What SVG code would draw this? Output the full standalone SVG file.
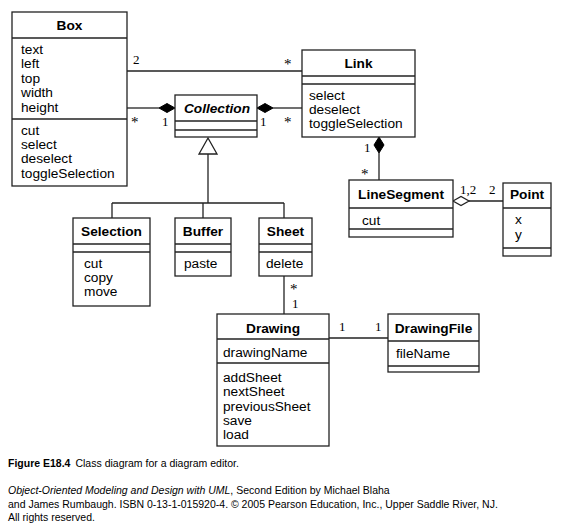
<svg xmlns="http://www.w3.org/2000/svg" width="564" height="527" viewBox="0 0 564 527">
<style>
.c{fill:#fff;stroke:#222;stroke-width:1.3}
.d{stroke:#222;stroke-width:1.3;fill:none}
.ln{stroke:#222;stroke-width:1.3;fill:none}
.nm{font-family:"Liberation Sans",Arial,sans-serif;font-weight:bold;font-size:13.7px;text-anchor:middle;fill:#000}
.tx{font-family:"Liberation Sans",Arial,sans-serif;font-size:13.7px;fill:#000}
.m{font-family:"Liberation Serif","Times New Roman",serif;font-size:13px;fill:#000}
.st{font-family:"Liberation Serif","Times New Roman",serif;font-size:15px;fill:#000}
.cap{font-family:"Liberation Sans",Arial,sans-serif;font-size:10.5px;fill:#000}
</style>
<rect width="564" height="527" fill="#fff"/>
<g id="connectors">
  <line class="ln" x1="127" y1="71" x2="302" y2="71"/>
  <line class="ln" x1="127" y1="108" x2="159" y2="108"/>
  <polygon points="159,108 167,103.5 175,108 167,112.5" fill="#000" stroke="#000"/>
  <line class="ln" x1="273" y1="108" x2="302" y2="108"/>
  <polygon points="257,108 265,103.5 273,108 265,112.5" fill="#000" stroke="#000"/>
  <polygon points="208,138 199,154 217,154" fill="#fff" stroke="#222" stroke-width="1.3"/>
  <polyline class="ln" points="208,154 208,203"/>
  <line class="ln" x1="112" y1="203" x2="284" y2="203"/>
  <line class="ln" x1="112" y1="203" x2="112" y2="218"/>
  <line class="ln" x1="203" y1="203" x2="203" y2="218"/>
  <line class="ln" x1="284" y1="203" x2="284" y2="218"/>
  <line class="ln" x1="284" y1="276" x2="284" y2="314"/>
  <line class="ln" x1="329" y1="338" x2="388" y2="338"/>
  <line class="ln" x1="379" y1="153" x2="379" y2="180"/>
  <polygon points="379,137 384,145 379,153 374,145" fill="#000" stroke="#000"/>
  <line class="ln" x1="469" y1="201" x2="503" y2="201"/>
  <polygon points="453,201 461,196.5 469,201 461,205.5" fill="#fff" stroke="#222" stroke-width="1.3"/>
  <text class="m" x="133" y="64">2</text>
  <text class="st" x="284" y="69">*</text>
  <text class="st" x="131" y="127">*</text>
  <text class="m" x="162" y="126">1</text>
  <text class="m" x="260" y="126">1</text>
  <text class="st" x="284" y="127">*</text>
  <text class="st" x="290" y="294">*</text>
  <text class="m" x="292" y="308">1</text>
  <text class="m" x="339" y="331">1</text>
  <text class="m" x="375" y="331">1</text>
  <text class="m" x="364" y="152">1</text>
  <text class="st" x="361" y="179">*</text>
  <text class="m" x="460" y="194">1,2</text>
  <text class="m" x="489" y="194">2</text>
</g>
<g id="Box">
  <rect class="c" x="12" y="12" width="115" height="174"/>
  <line class="d" x1="12" y1="38" x2="127" y2="38"/>
  <line class="d" x1="12" y1="119" x2="127" y2="119"/>
  <text class="nm" x="69.5" y="30">Box</text>
  <text class="tx" x="21" y="53.5">text</text>
  <text class="tx" x="21" y="68">left</text>
  <text class="tx" x="21" y="82.5">top</text>
  <text class="tx" x="21" y="97">width</text>
  <text class="tx" x="21" y="111.5">height</text>
  <text class="tx" x="21" y="134.5">cut</text>
  <text class="tx" x="21" y="148.5">select</text>
  <text class="tx" x="21" y="163">deselect</text>
  <text class="tx" x="21" y="177.5">toggleSelection</text>
</g>
<g id="Collection">
  <rect class="c" x="175" y="95" width="82" height="42"/>
  <line class="d" x1="175" y1="121" x2="257" y2="121"/>
  <line class="d" x1="175" y1="130" x2="257" y2="130"/>
  <text class="nm" x="217" y="113" font-style="italic">Collection</text>
</g>
<g id="Link">
  <rect class="c" x="302" y="50" width="113" height="87"/>
  <line class="d" x1="302" y1="76" x2="415" y2="76"/>
  <line class="d" x1="302" y1="84" x2="415" y2="84"/>
  <text class="nm" x="358.5" y="68">Link</text>
  <text class="tx" x="309" y="100">select</text>
  <text class="tx" x="309" y="114">deselect</text>
  <text class="tx" x="309" y="128">toggleSelection</text>
</g>
<g id="Selection">
  <rect class="c" x="73" y="218" width="77" height="88"/>
  <line class="d" x1="73" y1="244" x2="150" y2="244"/>
  <line class="d" x1="73" y1="252" x2="150" y2="252"/>
  <text class="nm" x="111.5" y="236">Selection</text>
  <text class="tx" x="84" y="268">cut</text>
  <text class="tx" x="84" y="282">copy</text>
  <text class="tx" x="84" y="296">move</text>
</g>
<g id="Buffer">
  <rect class="c" x="175" y="218" width="56" height="58"/>
  <line class="d" x1="175" y1="244" x2="231" y2="244"/>
  <line class="d" x1="175" y1="252" x2="231" y2="252"/>
  <text class="nm" x="203" y="236">Buffer</text>
  <text class="tx" x="184" y="268">paste</text>
</g>
<g id="Sheet">
  <rect class="c" x="259" y="218" width="53" height="58"/>
  <line class="d" x1="259" y1="244" x2="312" y2="244"/>
  <line class="d" x1="259" y1="252" x2="312" y2="252"/>
  <text class="nm" x="285.5" y="236">Sheet</text>
  <text class="tx" x="266" y="268">delete</text>
</g>
<g id="Drawing">
  <rect class="c" x="217" y="314" width="112" height="132"/>
  <line class="d" x1="217" y1="339" x2="329" y2="339"/>
  <line class="d" x1="217" y1="363" x2="329" y2="363"/>
  <text class="nm" x="273" y="333">Drawing</text>
  <text class="tx" x="223" y="357">drawingName</text>
  <text class="tx" x="223" y="382">addSheet</text>
  <text class="tx" x="223" y="396.3">nextSheet</text>
  <text class="tx" x="223" y="410.6">previousSheet</text>
  <text class="tx" x="223" y="424.9">save</text>
  <text class="tx" x="223" y="439.2">load</text>
</g>
<g id="DrawingFile">
  <rect class="c" x="388" y="314" width="91" height="58"/>
  <line class="d" x1="388" y1="341" x2="479" y2="341"/>
  <line class="d" x1="388" y1="366" x2="479" y2="366"/>
  <text class="nm" x="433.5" y="333">DrawingFile</text>
  <text class="tx" x="396" y="358">fileName</text>
</g>
<g id="LineSegment">
  <rect class="c" x="349" y="180" width="104" height="57"/>
  <line class="d" x1="349" y1="208" x2="453" y2="208"/>
  <line class="d" x1="349" y1="229" x2="453" y2="229"/>
  <text class="nm" x="401" y="199">LineSegment</text>
  <text class="tx" x="362" y="225">cut</text>
</g>
<g id="Point">
  <rect class="c" x="503" y="183" width="48" height="73"/>
  <line class="d" x1="503" y1="208" x2="551" y2="208"/>
  <line class="d" x1="503" y1="248" x2="551" y2="248"/>
  <text class="nm" x="527" y="199">Point</text>
  <text class="tx" x="515" y="224">x</text>
  <text class="tx" x="515" y="239">y</text>
</g>
<g id="caption">
  <text class="cap" x="8" y="467"><tspan font-weight="bold">Figure E18.4</tspan><tspan dx="5">Class diagram for a diagram editor.</tspan></text>
  <text class="cap" x="8" y="494"><tspan font-style="italic">Object-Oriented Modeling and Design with UML</tspan>, Second Edition by Michael Blaha</text>
  <text class="cap" x="8" y="507.5">and James Rumbaugh. ISBN 0-13-1-015920-4. © 2005 Pearson Education, Inc., Upper Saddle River, NJ.</text>
  <text class="cap" x="8" y="521">All rights reserved.</text>
</g>
</svg>
